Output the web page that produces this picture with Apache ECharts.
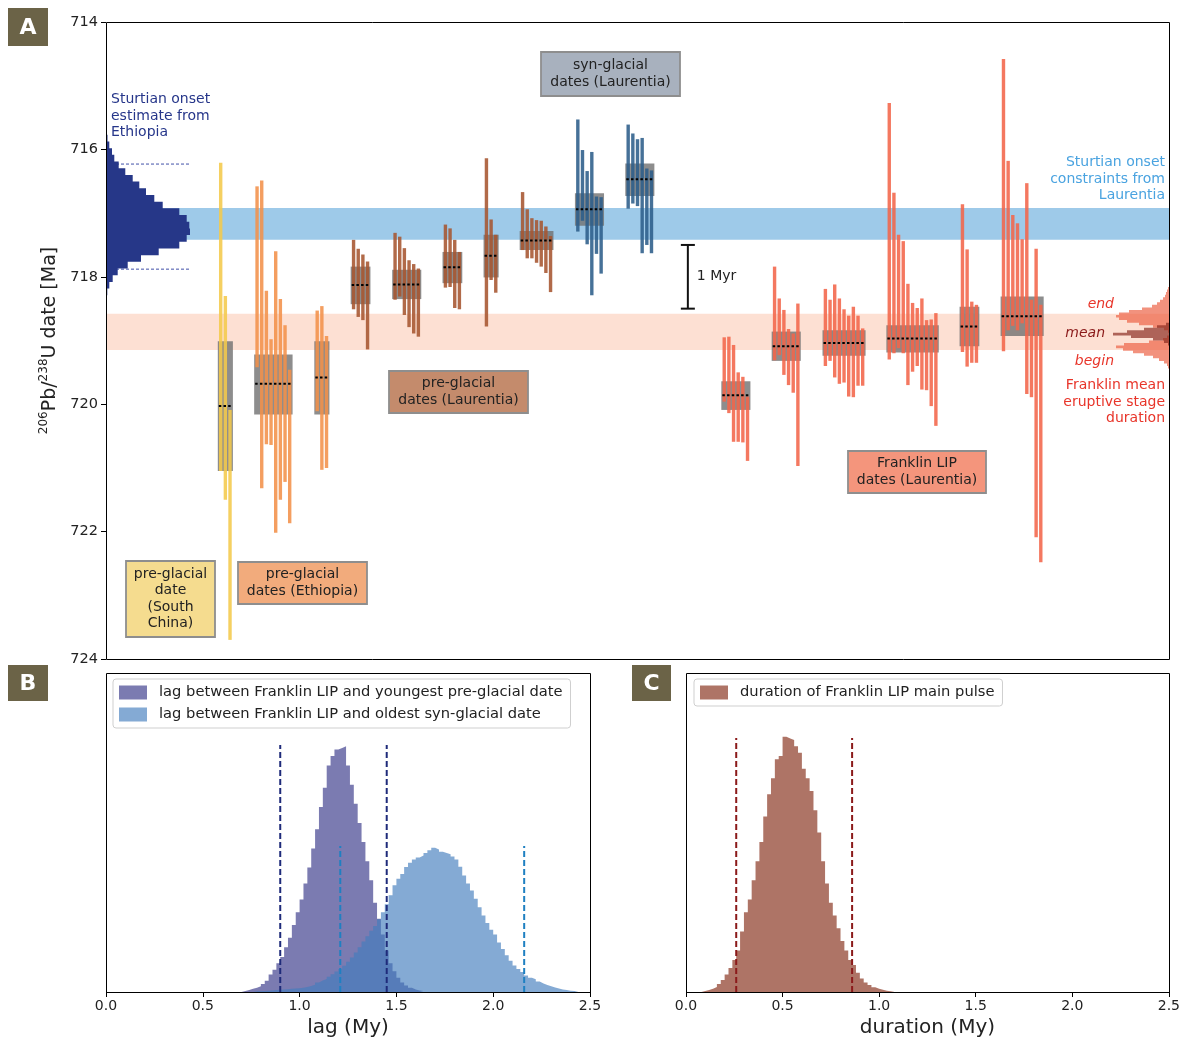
<!DOCTYPE html>
<html><head><meta charset="utf-8">
<script src="https://cdn.jsdelivr.net/npm/echarts@6/dist/echarts.min.js"></script>
<style>html,body{margin:0;padding:0;background:#fff}#c{width:1183px;height:1041px}</style>
</head><body><div id="c"></div><script>
// ---------------- DATA (panel A) ----------------
const ageTicks = [714, 716, 718, 720, 722, 724];
const sturtianLaurentiaBand = [716.92, 717.42];
const franklinEruptiveBand = [718.58, 719.15];

// group order: south china, ethiopia x2, laurentia pre-glacial x5, laurentia syn-glacial x2, franklin x6
const groupKind = ['southChina','ethiopia','ethiopia','preLau','preLau','preLau','preLau','preLau','synLau','synLau','franklin','franklin','franklin','franklin','franklin','franklin'];
const groupStart = [24.6, 32.4, 45.3, 53.1, 62.0, 72.8, 81.6, 89.35, 101.2, 112.0, 132.6, 143.4, 154.3, 168.0, 183.7, 192.5];
const groupBoxYoung = [719.01, 719.22, 719.01, 717.84, 717.89, 717.61, 717.34, 717.28, 716.69, 716.22, 719.64, 718.86, 718.84, 718.76, 718.47, 718.31];
const groupBoxOld   = [721.05, 720.16, 720.16, 718.43, 718.35, 718.10, 718.01, 717.58, 717.20, 716.73, 720.09, 719.32, 719.24, 719.19, 719.09, 718.93];
const groupMean     = [720.03, 719.68, 719.58, 718.13, 718.12, 717.85, 717.67, 717.43, 716.94, 716.47, 719.86, 719.09, 719.04, 718.97, 718.78, 718.62];

const datesSouthChina = [[716.21,721.05],[718.30,721.50],[720.09,723.70]];
const datesEthiopiaA = [[716.58,719.42],[716.49,721.32],[718.22,720.63],[718.98,720.64],[717.60,722.02],[718.35,721.50],[718.76,721.22],[719.46,721.87]];
const datesEthiopiaB = [[718.53,720.11],[718.46,721.03],[718.93,721.00]];
const datesPreLau1 = [[717.42,718.51],[717.56,718.63],[717.65,718.68],[717.76,719.14]];
const datesPreLau2 = [[717.31,718.36],[717.37,718.31],[717.55,718.60],[717.74,718.79],[717.80,718.89],[717.87,718.94]];
const datesPreLau3 = [[717.18,718.17],[717.24,718.16],[717.42,718.49],[717.61,718.51]];
const datesPreLau4 = [[716.14,718.78],[717.10,718.05],[717.34,718.25]];
const datesPreLau5 = [[716.67,717.58],[716.94,717.71],[717.08,717.71],[717.11,717.78],[717.12,717.84],[717.21,717.94],[717.36,718.24]];
const datesSynLau1 = [[715.53,717.29],[716.01,717.12],[716.34,717.49],[716.04,718.29],[716.74,717.64],[716.75,717.95]];
const datesSynLau2 = [[715.61,716.93],[715.75,716.85],[715.84,716.89],[715.82,717.63],[716.30,717.50],[716.33,717.63]];
const datesFranklin1 = [[718.95,719.96],[718.94,720.14],[719.07,720.59],[719.50,720.59],[719.57,720.60],[719.88,720.89]];
const datesFranklin2 = [[717.84,719.31],[718.34,719.23],[718.52,719.54],[718.82,719.70],[718.89,719.82],[718.42,720.97]];
const datesFranklin3 = [[718.19,719.40],[718.36,719.32],[718.12,719.58],[718.34,719.68],[718.51,719.66],[718.61,719.88],[718.47,719.89],[718.61,719.71],[718.81,719.71]];
const datesFranklin4 = [[715.27,719.30],[716.68,719.20],[717.34,719.12],[717.44,719.20],[718.11,719.70],[718.41,719.49],[718.49,719.40],[718.34,719.77],[718.68,719.78],[718.67,720.03],[718.57,720.34]];
const datesFranklin5 = [[716.86,719.18],[717.57,719.41],[718.39,719.35],[718.44,719.35]];
const datesFranklin6 = [[714.58,719.17],[716.18,718.84],[717.03,718.77],[717.16,718.84],[717.41,718.73],[716.53,719.84],[718.36,719.89],[717.56,722.09],[718.44,722.48]];
const groupDates = [datesSouthChina, datesEthiopiaA, datesEthiopiaB, datesPreLau1, datesPreLau2, datesPreLau3, datesPreLau4, datesPreLau5, datesSynLau1, datesSynLau2, datesFranklin1, datesFranklin2, datesFranklin3, datesFranklin4, datesFranklin5, datesFranklin6];

// Sturtian onset estimate from Ethiopia (horizontal histogram)
const ethiopiaOnsetBinStart = 715.77, ethiopiaOnsetBinWidth = 0.105;
const ethiopiaOnsetCounts = [1.5, 3.3, 6, 8.3, 12.7, 19.3, 26.7, 33.3, 40, 48.3, 56.7, 73.3, 80.7, 83.3, 84, 80.7, 73.3, 52.7, 35, 21.7, 11.7, 6.7, 3.3, 1.3];
const ethiopiaOnsetInterval = [716.23, 717.88];
// Franklin eruptive stage histograms
const franklinBinWidth = 0.04;
const franklinEndStart = 718.16;
const franklinEndCounts = [1, 2, 3, 4, 6, 9, 12, 17, 27, 40, 50, 53, 50, 42, 30, 16, 5, 1];
const franklinMeanStart = 718.72;
const franklinMeanCounts = [3, 12, 25, 42, 56, 38, 16, 5, 1];
const franklinBeginStart = 718.92;
const franklinBeginCounts = [2, 6, 20, 45, 53, 46, 36, 25, 16, 10, 5, 2, 1];
const scaleBarAt = 124.8, scaleBarRange = [717.5, 718.5];

// ---------------- DATA (panels B, C) ----------------
const lagTicks = [0, 0.5, 1.0, 1.5, 2.0, 2.5];
const binWidthBC = 0.02;
const lagPreStart = 0.70;
const lagPreCounts = [0.003,0.006,0.01,0.013,0.018,0.025,0.035,0.055,0.07,0.09,0.11,0.14,0.17,0.21,0.25,0.29,0.34,0.39,0.45,0.51,0.58,0.64,0.71,0.74,0.76,0.765,0.77,0.71,0.65,0.59,0.53,0.47,0.41,0.35,0.28,0.23,0.18,0.13,0.09,0.065,0.045,0.03,0.02,0.013,0.008,0.005,0.003];
const lagSynStart = 0.76;
const lagSynCounts = [0.002,0.002,0.003,0.004,0.005,0.006,0.007,0.008,0.009,0.010,0.011,0.012,0.013,0.016,0.019,0.023,0.030,0.036,0.041,0.048,0.056,0.064,0.072,0.082,0.095,0.108,0.124,0.140,0.158,0.175,0.192,0.207,0.228,0.25,0.275,0.303,0.335,0.355,0.370,0.392,0.405,0.415,0.422,0.428,0.436,0.444,0.452,0.447,0.44,0.436,0.432,0.425,0.415,0.393,0.365,0.340,0.318,0.292,0.266,0.240,0.216,0.195,0.180,0.155,0.135,0.115,0.098,0.083,0.072,0.063,0.052,0.045,0.040,0.033,0.027,0.022,0.018,0.014,0.011,0.008,0.006,0.004,0.003,0.002];
const lagPreBounds = [0.90, 1.45], lagPreBoundTop = 0.774;
const lagSynBounds = [1.21, 2.16], lagSynBoundTop = 0.458;
const durStart = 0.08;
const durCounts = [0.003,0.006,0.010,0.016,0.025,0.038,0.055,0.075,0.10,0.13,0.19,0.25,0.29,0.35,0.41,0.47,0.55,0.62,0.67,0.73,0.74,0.80,0.795,0.79,0.77,0.75,0.70,0.67,0.63,0.57,0.50,0.41,0.34,0.28,0.24,0.20,0.16,0.13,0.10,0.085,0.06,0.042,0.03,0.022,0.015,0.01,0.007,0.004,0.002,0.001];
const durBounds = [0.26, 0.86], durBoundTop = 0.796;

// ---------------- STYLE ----------------
const kindColor = {southChina:'#f4c94b', ethiopia:'#f2914a', preLau:'#a65530', synLau:'#2c5d8a', franklin:'#f2654a'};
const FONT = 'DejaVu Sans';

// ---------------- BUILD ----------------
const barData = [], boxData = [], meanData = [];
groupDates.forEach((ds, g) => {
  ds.forEach((d, i) => barData.push([groupStart[g] + i, d[0], d[1], g]));
  boxData.push([groupStart[g] - 0.62, groupStart[g] + ds.length - 1 + 0.62, groupBoxYoung[g], groupBoxOld[g]]);
  meanData.push([groupStart[g] - 0.62, groupStart[g] + ds.length - 1 + 0.62, groupMean[g]]);
});

function stepPts(start, w, vals) {
  const p = [[start, 0]];
  vals.forEach((v, i) => p.push([+(start + i * w).toFixed(4), v]));
  const e = +(start + vals.length * w).toFixed(4);
  p.push([e, vals[vals.length - 1]]); p.push([e, 0]);
  return p;
}
function hPoly(api, start, w, vals) {
  const pts = [api.coord([0, start])];
  vals.forEach((v, i) => { pts.push(api.coord([v, start + i * w])); pts.push(api.coord([v, start + (i + 1) * w])); });
  pts.push(api.coord([0, start + vals.length * w]));
  return pts;
}
function hHistSeries(xi, start, w, vals, fill, z) {
  return {type:'custom', xAxisIndex:xi, yAxisIndex:xi, z:z, silent:true, clip:false,
    data:[[0, start]],
    renderItem:(p, api) => ({type:'polygon', shape:{points:hPoly(api, start, w, vals)}, style:{fill:fill}})};
}
function vLine(xi, x, top, color, z) {
  return {type:'line', xAxisIndex:xi, yAxisIndex:xi, data:[[x,0],[x,top]], symbol:'none', silent:true, z:z,
    lineStyle:{color:color, width:2, type:[6,3]}};
}
function boxLabel(x, y, w, h, fill, text) {
  return [
    {type:'rect', z:50, shape:{x:x, y:y, width:w, height:h}, style:{fill:fill, stroke:'#8e8e8e', lineWidth:1.8}},
    {type:'text', z:51, x:x + w/2, y:y + h/2, style:{text:text, fill:'#222', font:'14px "DejaVu Sans"', align:'center', verticalAlign:'middle', textAlign:'center', textVerticalAlign:'middle', lineHeight:16.5}}
  ];
}
function plainText(x, y, text, color, align, italic) {
  return {type:'text', z:51, x:x, y:y, style:{text:text, fill:color, font:(italic?'italic ':'') + '14px "DejaVu Sans"', align:align, textAlign:align, verticalAlign:'middle', textVerticalAlign:'middle', lineHeight:16.5}};
}
function panelTag(x, y, w, h, letter) {
  return [
    {type:'rect', z:60, shape:{x:x, y:y, width:w, height:h}, style:{fill:'#6b6347'}},
    {type:'text', z:61, x:x + w/2, y:y + h/2 + 1, style:{text:letter, fill:'#fff', font:'bold 22px "DejaVu Sans"', align:'center', verticalAlign:'middle', textAlign:'center', textVerticalAlign:'middle'}}
  ];
}

const hidden = {show:false};
const legendCommon = {orient:'vertical', itemWidth:28, itemHeight:14, itemGap:7, icon:'rect',
  padding:[6,8,6,6], backgroundColor:'#fff', borderColor:'#cfcfcf', borderWidth:1, borderRadius:3,
  textStyle:{fontSize:14.7, color:'#222', padding:[0,0,0,7]}, selectedMode:false};
const option = {
  animation:false,
  textStyle:{fontFamily:FONT},
  grid:[
    {left:106, top:22, width:1063, height:637},
    {left:106, top:22, width:100, height:637},
    {left:1069, top:22, width:100, height:637},
    {left:106, top:673, width:484, height:319},
    {left:686, top:673, width:483, height:319}
  ],
  xAxis:[
    {gridIndex:0, type:'value', min:0, max:228, show:false},
    {gridIndex:1, type:'value', min:0, max:100, show:false},
    {gridIndex:2, type:'value', min:0, max:100, inverse:true, show:false},
    {gridIndex:3, type:'value', min:0, max:2.5, interval:0.5, axisLine:hidden, splitLine:hidden,
      axisTick:{length:5, lineStyle:{color:'#000'}},
      axisLabel:{fontSize:14, color:'#222', margin:7, formatter:v => v.toFixed(1)},
      name:'lag (My)', nameLocation:'middle', nameGap:26, nameTextStyle:{fontSize:20, color:'#222'}},
    {gridIndex:4, type:'value', min:0, max:2.5, interval:0.5, axisLine:hidden, splitLine:hidden,
      axisTick:{length:5, lineStyle:{color:'#000'}},
      axisLabel:{fontSize:14, color:'#222', margin:7, formatter:v => v.toFixed(1)},
      name:'duration (My)', nameLocation:'middle', nameGap:26, nameTextStyle:{fontSize:20, color:'#222'}}
  ],
  yAxis:[
    {gridIndex:0, type:'value', min:ageTicks[0], max:ageTicks[ageTicks.length-1], interval:2, inverse:true,
      axisLine:hidden, splitLine:hidden, axisTick:{length:5, lineStyle:{color:'#000'}},
      axisLabel:{fontSize:14.5, color:'#222', margin:8},
      name:'{s|206}{t|Pb/}{s|238}{t|U date [Ma]}', nameLocation:'middle', nameRotate:90, nameGap:44,
      nameTextStyle:{color:'#222', rich:{s:{fontSize:12, lineHeight:12, verticalAlign:'top', color:'#222', fontFamily:FONT}, t:{fontSize:19, lineHeight:24, color:'#222', fontFamily:FONT}}}},
    {gridIndex:1, type:'value', min:714, max:724, inverse:true, show:false},
    {gridIndex:2, type:'value', min:714, max:724, inverse:true, show:false},
    {gridIndex:3, type:'value', min:0, max:1, show:false},
    {gridIndex:4, type:'value', min:0, max:1, show:false}
  ],
  legend:[
    Object.assign({left:113, top:679, data:['lag between Franklin LIP and youngest pre-glacial date','lag between Franklin LIP and oldest syn-glacial date']}, legendCommon),
    Object.assign({left:694, top:679, data:['duration of Franklin LIP main pulse']}, legendCommon)
  ],
  series:[
    // bands
    {type:'custom', xAxisIndex:0, yAxisIndex:0, z:1, silent:true,
      data:[[0, sturtianLaurentiaBand[0], sturtianLaurentiaBand[1], 0],[0, franklinEruptiveBand[0], franklinEruptiveBand[1], 1]],
      renderItem:(p, api) => {
        const a = api.coord([0, api.value(1)]), b = api.coord([228, api.value(2)]);
        return {type:'rect', shape:{x:a[0], y:a[1], width:b[0]-a[0], height:b[1]-a[1]},
          style:{fill: api.value(3) === 0 ? '#9ecae9' : '#fde0d3'}};
      }},
    // ethiopia interval dashed lines
    {type:'custom', xAxisIndex:1, yAxisIndex:1, z:2, silent:true, clip:false,
      data:ethiopiaOnsetInterval.map(v => [0, v]),
      renderItem:(p, api) => {
        const a = api.coord([0, api.value(1)]), b = api.coord([84.7, api.value(1)]);
        return {type:'line', shape:{x1:a[0], y1:a[1], x2:b[0], y2:b[1]}, style:{stroke:'#4050a8', lineWidth:1, lineDash:[3,2]}};
      }},
    hHistSeries(1, ethiopiaOnsetBinStart, ethiopiaOnsetBinWidth, ethiopiaOnsetCounts, '#263788', 3),
    hHistSeries(2, franklinEndStart, franklinBinWidth, franklinEndCounts, 'rgba(236,95,65,0.68)', 3),
    hHistSeries(2, franklinBeginStart, franklinBinWidth, franklinBeginCounts, 'rgba(236,95,65,0.68)', 3),
    hHistSeries(2, franklinMeanStart, franklinBinWidth, franklinMeanCounts, 'rgba(135,40,30,0.68)', 4),
    // boxes
    {type:'custom', xAxisIndex:0, yAxisIndex:0, z:5, silent:true, data:boxData,
      encode:{x:[0,1], y:[2,3]},
      renderItem:(p, api) => {
        const a = api.coord([api.value(0), api.value(2)]), b = api.coord([api.value(1), api.value(3)]);
        return {type:'rect', shape:{x:a[0], y:a[1], width:b[0]-a[0], height:b[1]-a[1]}, style:{fill:'rgba(112,112,112,0.8)'}};
      }},
    // error bars
    {type:'custom', xAxisIndex:0, yAxisIndex:0, z:6, silent:true, data:barData,
      encode:{x:0, y:[1,2]},
      renderItem:(p, api) => {
        const a = api.coord([api.value(0), api.value(1)]), b = api.coord([api.value(0), api.value(2)]);
        const w = 3.4;
        return {type:'rect', shape:{x:a[0]-w/2, y:a[1], width:w, height:b[1]-a[1]},
          style:{fill:kindColor[groupKind[api.value(3)]], opacity:0.88}};
      }},
    // mean lines
    {type:'custom', xAxisIndex:0, yAxisIndex:0, z:7, silent:true, data:meanData,
      encode:{x:[0,1], y:2},
      renderItem:(p, api) => {
        const a = api.coord([api.value(0), api.value(2)]), b = api.coord([api.value(1), api.value(2)]);
        return {type:'line', shape:{x1:a[0]+1, y1:a[1], x2:b[0]-1, y2:b[1]}, style:{stroke:'#000', lineWidth:2, lineDash:[2.5,2.2]}};
      }},
    // 1 Myr scale bar
    {type:'custom', xAxisIndex:0, yAxisIndex:0, z:7, silent:true, data:[[scaleBarAt, scaleBarRange[0], scaleBarRange[1]]],
      renderItem:(p, api) => {
        const a = api.coord([api.value(0), api.value(1)]), b = api.coord([api.value(0), api.value(2)]);
        const st = {stroke:'#111', lineWidth:2};
        return {type:'group', children:[
          {type:'line', shape:{x1:a[0], y1:a[1], x2:b[0], y2:b[1]}, style:st},
          {type:'line', shape:{x1:a[0]-7, y1:a[1], x2:a[0]+7, y2:a[1]}, style:st},
          {type:'line', shape:{x1:b[0]-7, y1:b[1], x2:b[0]+7, y2:b[1]}, style:st},
          {type:'text', x:a[0]+9, y:(a[1]+b[1])/2, style:{text:'1 Myr', fill:'#222', font:'14px "DejaVu Sans"', verticalAlign:'middle', textVerticalAlign:'middle'}}
        ]};
      }},
    // panel B
    {name:'lag between Franklin LIP and youngest pre-glacial date', type:'line', xAxisIndex:3, yAxisIndex:3, step:'end',
      data:stepPts(lagPreStart, binWidthBC, lagPreCounts), symbol:'none', silent:true, z:2,
      color:'#7b7bb1', itemStyle:{color:'#7b7bb1'}, lineStyle:{width:0}, areaStyle:{color:'#7b7bb1', opacity:1}},
    {name:'lag between Franklin LIP and oldest syn-glacial date', type:'line', xAxisIndex:3, yAxisIndex:3, step:'end',
      data:stepPts(lagSynStart, binWidthBC, lagSynCounts), symbol:'none', silent:true, z:3,
      color:'rgba(66,125,189,0.65)', itemStyle:{color:'rgba(66,125,189,0.65)'}, lineStyle:{width:0}, areaStyle:{color:'rgba(66,125,189,0.65)', opacity:1}},
    vLine(3, lagPreBounds[0], lagPreBoundTop, '#1f2b7a', 4),
    vLine(3, lagPreBounds[1], lagPreBoundTop, '#1f2b7a', 4),
    vLine(3, lagSynBounds[0], lagSynBoundTop, '#1f80c2', 4),
    vLine(3, lagSynBounds[1], lagSynBoundTop, '#1f80c2', 4),
    // panel C
    {name:'duration of Franklin LIP main pulse', type:'line', xAxisIndex:4, yAxisIndex:4, step:'end',
      data:stepPts(durStart, binWidthBC, durCounts), symbol:'none', silent:true, z:2,
      color:'#ae7466', itemStyle:{color:'#ae7466'}, lineStyle:{width:0}, areaStyle:{color:'#ae7466', opacity:1}},
    vLine(4, durBounds[0], durBoundTop, '#8b1a1a', 4),
    vLine(4, durBounds[1], durBoundTop, '#8b1a1a', 4)
  ],
  graphic:[
    {type:'rect', z:100, silent:true, shape:{x:106.5, y:22.5, width:1063, height:637}, style:{fill:null, stroke:'#000', lineWidth:1}},
    {type:'rect', z:100, silent:true, shape:{x:106.5, y:673.5, width:484, height:319}, style:{fill:null, stroke:'#000', lineWidth:1}},
    {type:'rect', z:100, silent:true, shape:{x:686.5, y:673.5, width:483, height:319}, style:{fill:null, stroke:'#000', lineWidth:1}},
    ...panelTag(8, 8, 40, 38, 'A'),
    ...panelTag(8, 665, 40, 36, 'B'),
    ...panelTag(632, 665, 39, 36, 'C'),
    ...boxLabel(541, 52, 139, 44, '#a8b1be', 'syn-glacial\ndates (Laurentia)'),
    ...boxLabel(389, 371, 139, 42, '#c48b6c', 'pre-glacial\ndates (Laurentia)'),
    ...boxLabel(848, 451, 138, 42, '#f4957c', 'Franklin LIP\ndates (Laurentia)'),
    ...boxLabel(126, 561, 89, 76, '#f5dc8f', 'pre-glacial\ndate\n(South\nChina)'),
    ...boxLabel(238, 562, 129, 42, '#f2ab7c', 'pre-glacial\ndates (Ethiopia)'),
    plainText(111, 116, 'Sturtian onset\nestimate from\nEthiopia', '#26368a', 'left', false),
    plainText(1165, 179, 'Sturtian onset\nconstraints from\nLaurentia', '#4aa3e0', 'right', false),
    plainText(1114, 304, 'end', '#e8352a', 'right', true),
    plainText(1105, 333, 'mean', '#8b1a1a', 'right', true),
    plainText(1114, 361, 'begin', '#e8352a', 'right', true),
    plainText(1165, 402, 'Franklin mean\neruptive stage\nduration', '#e8352a', 'right', false)
  ]
};
const chart = echarts.init(document.getElementById('c'), null, {renderer:'canvas'});
chart.setOption(option);
</script></body></html>
